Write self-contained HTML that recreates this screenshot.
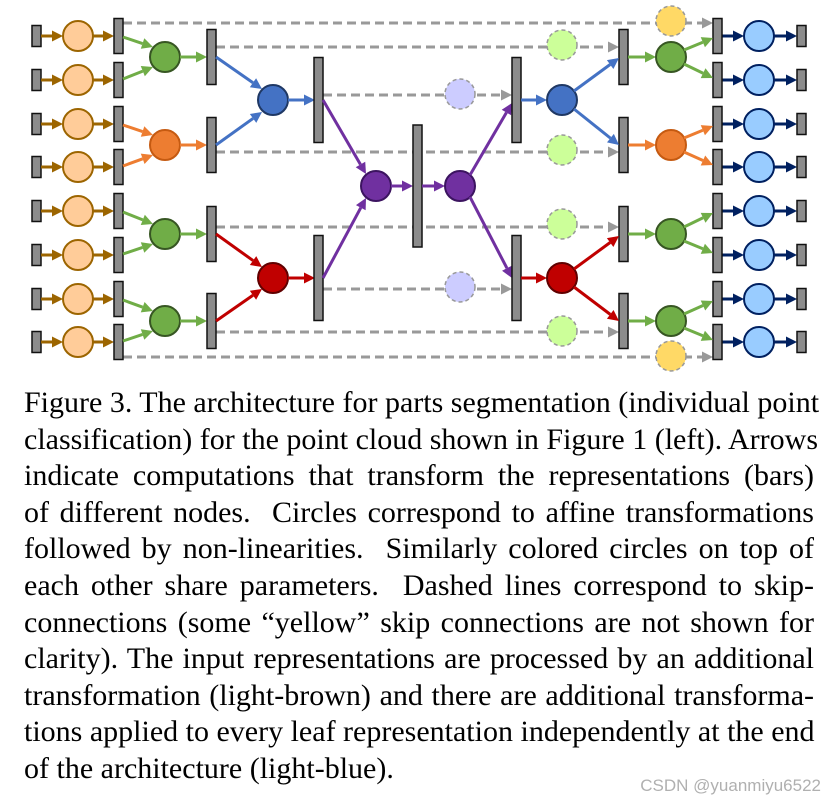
<!DOCTYPE html>
<html><head><meta charset="utf-8">
<style>
html,body{margin:0;padding:0;background:#fff;}
body{width:829px;height:806px;position:relative;overflow:hidden;}
svg{position:absolute;left:0;top:0;}
.cap{position:absolute;left:24px;top:385px;width:790px;font-family:"Liberation Serif",serif;font-size:30px;line-height:36.6px;color:#000;}
.cap div{text-align:justify;text-align-last:justify;white-space:nowrap;height:36.6px;}
.cap div.last{text-align-last:left;}
.wm{position:absolute;right:8px;top:776px;font-family:"Liberation Sans",sans-serif;font-size:17px;color:#b0b0b0;}
</style></head><body>
<svg id="s" width="829" height="380" viewBox="0 0 829 380" xmlns="http://www.w3.org/2000/svg"></svg>
<div class="cap">
<div>Figure 3. The architecture for parts segmentation (individual point</div>
<div>classification) for the point cloud shown in Figure 1 (left). Arrows</div>
<div>indicate computations that transform the representations (bars)</div>
<div>of different nodes.&nbsp; Circles correspond to affine transformations</div>
<div>followed by non-linearities.&nbsp; Similarly colored circles on top of</div>
<div>each other share parameters.&nbsp; Dashed lines correspond to skip-</div>
<div>connections (some “yellow” skip connections are not shown for</div>
<div>clarity). The input representations are processed by an additional</div>
<div>transformation (light-brown) and there are additional transforma-</div>
<div>tions applied to every leaf representation independently at the end</div>
<div class="last">of the architecture (light-blue).</div>
</div>
<div class="wm">CSDN @yuanmiyu6522</div>
<script>
var s=document.getElementById('s'),h='';
function bar(x,cy,hh,w){w=w||9;h+='<rect x="'+x+'" y="'+(cy-hh/2)+'" width="'+w+'" height="'+hh+'" fill="#8c8c8c" stroke="#111" stroke-width="1.5"/>';}
function circ(cx,cy,f,st,d){h+='<circle cx="'+cx+'" cy="'+cy+'" r="15" fill="'+f+'" stroke="'+st+'" stroke-width="'+(d?1.5:2)+'"'+(d?' stroke-dasharray="4 3"':'')+'/>';}
function arr(x1,y1,x2,y2,c){var dx=x2-x1,dy=y2-y1,L=Math.hypot(dx,dy),ux=dx/L,uy=dy/L,a=11,w=5.5;
var bx=x2-ux*a,by=y2-uy*a;
h+='<line x1="'+x1+'" y1="'+y1+'" x2="'+bx+'" y2="'+by+'" stroke="'+c+'" stroke-width="3"/>';
h+='<polygon points="'+x2+','+y2+' '+(bx-uy*w)+','+(by+ux*w)+' '+(bx+uy*w)+','+(by-ux*w)+'" fill="'+c+'"/>';}
function dash(x1,x2,y,arrow){h+='<line x1="'+x1+'" y1="'+y+'" x2="'+(arrow?x2-10:x2)+'" y2="'+y+'" stroke="#999" stroke-width="3" stroke-dasharray="9 5"/>';
if(arrow)h+='<polygon points="'+x2+','+y+' '+(x2-11)+','+(y-5.5)+' '+(x2-11)+','+(y+5.5)+'" fill="#999"/>';}
var rows=[36,80,124,167,211,255,299,342];
var GR='#70ad47',GS='#375623',OR='#ed7d31',OS='#c55a11',BL='#4472c4',BS='#1f3864',RD='#c00000',RS='#600000',PU='#7030a0',PS='#3c1460';
dash(123,713,23,1);dash(123,713,357,1);
dash(216,619,47,1);dash(216,619,152,1);dash(216,619,227,1);dash(216,619,332,1);
dash(323,512,95,1);dash(323,512,289,1);
circ(671,21,'#ffd966','#999',1);circ(671,356,'#ffd966','#999',1);
[45,150,224,331].forEach(function(y){circ(562,y,'#ccff99','#999',1);});
[94,287].forEach(function(y){circ(460,y,'#ccccff','#999',1);});
rows.forEach(function(y){bar(32,y,21);arr(41,y,63,y,'#9c6500');circ(78,y,'#ffcc99','#9c6500');arr(93,y,114,y,'#9c6500');bar(114,y,35);
arr(722,y,744,y,'#002060');circ(759,y,'#99ccff','#002060');arr(774,y,797,y,'#002060');});
var mids=[[57,GR,GS],[145,OR,OS],[234,GR,GS],[321,GR,GS]];
mids.forEach(function(m,i){var y=m[0],a=rows[2*i],b=rows[2*i+1];
arr(123,a+1,153,y-10,m[1]);arr(123,b-1,153,y+10,m[1]);circ(165,y,m[1],m[2]);arr(180,y,207,y,m[1]);bar(207,y,55);
bar(713,a,35);bar(713,b,35);bar(797,a,21);bar(797,b,21);
bar(619,y,55);arr(628,y,656,y,m[1]);circ(671,y,m[1],m[2]);arr(684,y-7,713,a+2,m[1]);arr(684,y+7,713,b-2,m[1]);});
arr(216,57,262,89,BL);arr(216,145,262,112,BL);circ(273,100,BL,BS);arr(288,100,315,100,BL);bar(314,100,85);
arr(216,234,262,267,RD);arr(216,321,262,289,RD);circ(273,278,RD,RS);arr(288,278,315,278,RD);bar(314,278,85);
arr(323,100,366,174,PU);arr(323,278,366,198,PU);circ(376,186,PU,PS);arr(391,186,413,186,PU);bar(413,186,122);
arr(422,186,445,186,PU);circ(460,186,PU,PS);arr(470,175,512,103,PU);arr(470,197,512,278,PU);
bar(512,100,85);bar(512,278,85);
arr(521,100,547,100,BL);circ(562,100,BL,BS);arr(574,91,619,58,BL);arr(574,109,619,145,BL);
arr(521,278,547,278,RD);circ(562,278,RD,RS);arr(574,269,619,236,RD);arr(574,287,619,321,RD);
s.innerHTML=h;
</script>
</body></html>
